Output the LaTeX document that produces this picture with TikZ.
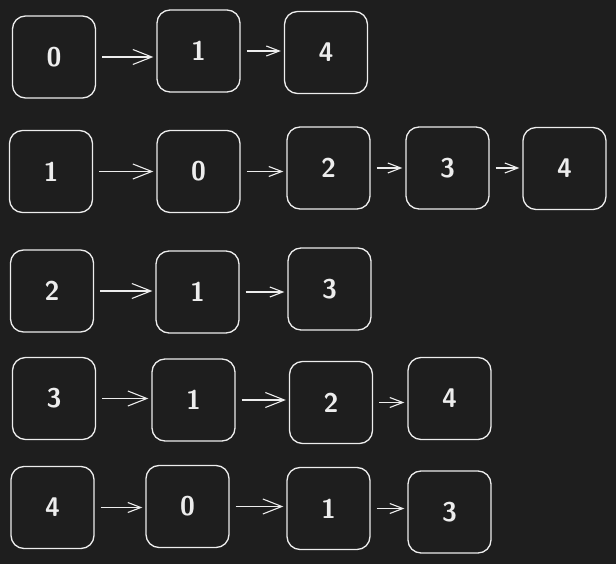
\documentclass[tikz,border=0pt]{standalone}
\usetikzlibrary{arrows.meta}
\definecolor{canvas}{HTML}{1E1E1E}
\definecolor{ink}{HTML}{EDEDED}
\begin{document}
\begin{tikzpicture}[x=1pt, y=-1pt,
	every node/.style={font=\sffamily\bfseries\fontsize{27}{27}\selectfont,
						text=ink
						},
	vert/.style= {draw=ink,
				  line width=1.3pt,
				  rounded corners=13pt,
				  minimum width=83pt,
				  minimum height=82pt,
				  inner sep=0pt
	},
	link/.style={draw=ink, line width=1.1pt,
				 -{Straight Barb[length=19pt,width=15pt]},
				 shorten <=6pt, shorten >=3pt},
	shortlink/.style={link, -{Straight Barb[length=13pt,width=10pt]}}
]
	\fill[canvas] (0,0) rectangle (616,564);
	% row of vertex 0
	\node (h0) [vert] at (54,57) {0};
	\node (a01) [vert] at (198.5,51) {1};
	\node (a04) [vert] at (326,52.5) {4};
	% row of vertex 1
	\node (h1) [vert] at (51,171.5) {1};
	\node (a10) [vert] at (198.5,171.5) {0};
	\node (a12) [vert] at (328.5,168) {2};
	\node (a13) [vert] at (447.5,168) {3};
	\node (a14) [vert] at (564.5,168.5) {4};
	% row of vertex 2
	\node (h2) [vert] at (52,291) {2};
	\node (a21) [vert] at (197.5,292) {1};
	\node (a23) [vert] at (329.5,289) {3};
	% row of vertex 3
	\node (h3) [vert] at (54,398.5) {3};
	\node (a31) [vert] at (193.5,400) {1};
	\node (a32) [vert] at (331,402.5) {2};
	\node (a34) [vert] at (449.5,398.5) {4};
	% row of vertex 4
	\node (h4) [vert] at (52.5,507.5) {4};
	\node (a40) [vert] at (187.5,506.5) {0};
	\node (a41) [vert] at (328.5,508.5) {1};
	\node (a43) [vert] at (449.5,512) {3};

	\draw[link] (h0.east) -- (h0.east -| a01.west);
	\draw[shortlink] (a01.east) -- (a01.east -| a04.west);

	\draw[link] (h1.east) -- (h1.east -| a10.west);
	\draw[shortlink] (a10.east) -- (a10.east -| a12.west);
	\draw[shortlink] (a12.east) -- (a12.east -| a13.west);
	\draw[shortlink] (a13.east) -- (a13.east -| a14.west);

	\draw[link] (h2.east) -- (h2.east -| a21.west);
	\draw[shortlink] (a21.east) -- (a21.east -| a23.west);

	\draw[link] (h3.east) -- (h3.east -| a31.west);
	\draw[link] (a31.east) -- (a31.east -| a32.west);
	\draw[shortlink] (a32.east) -- (a32.east -| a34.west);

	\draw[shortlink] (h4.east) -- (h4.east -| a40.west);
	\draw[link] (a40.east) -- (a40.east -| a41.west);
	\draw[shortlink] (a41.east) -- (a41.east -| a43.west);
\end{tikzpicture}
\end{document}
